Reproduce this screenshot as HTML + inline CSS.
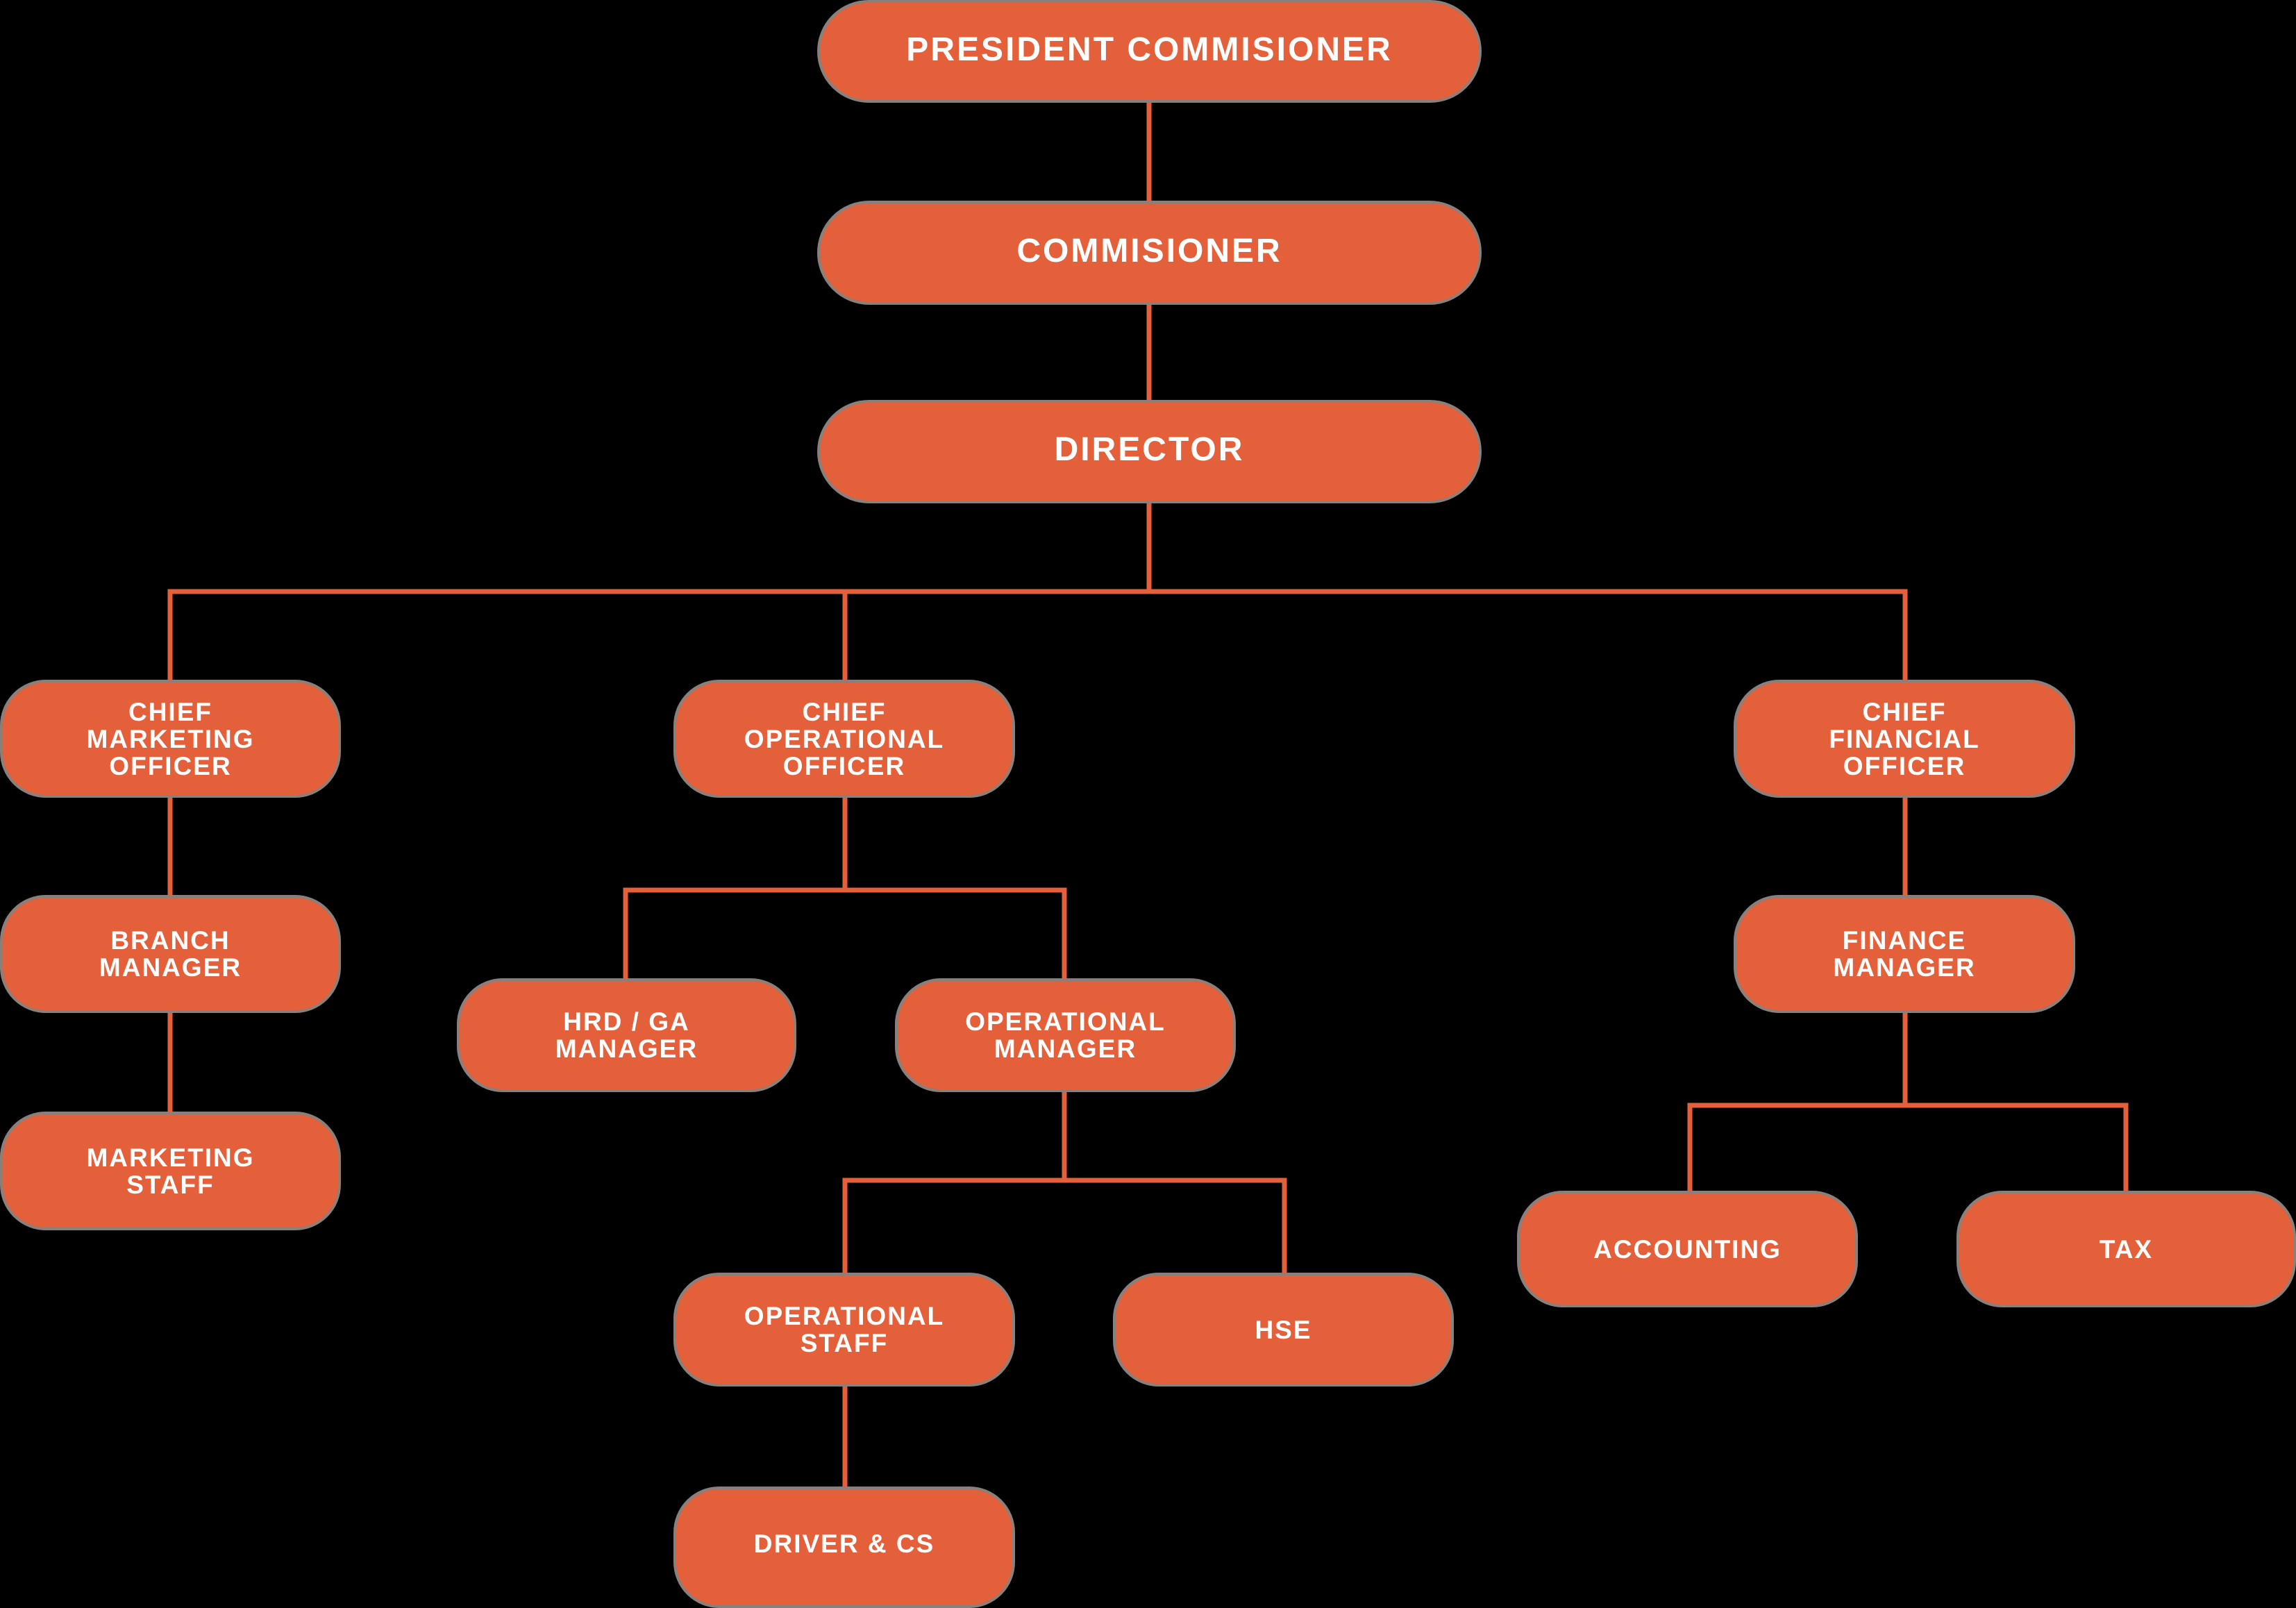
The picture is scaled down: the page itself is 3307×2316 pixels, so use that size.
<!DOCTYPE html>
<html><head><meta charset="utf-8"><style>
html,body{margin:0;padding:0;background:#000;}
body{width:3307px;height:2310px;position:relative;overflow:hidden;font-family:"Liberation Sans",sans-serif;}
.b{position:absolute;background:#E4603A;border:4px solid #8a7f7a;box-sizing:border-box;border-radius:66px;display:flex;align-items:center;justify-content:center;text-align:center;color:#fff;font-size:37px;line-height:39px;letter-spacing:2px;font-weight:bold;}
.t{font-size:48px;letter-spacing:3px;border-radius:78px;padding-bottom:6px;}
svg{position:absolute;left:0;top:0;}
</style></head><body>
<svg width="3307" height="2310">
<g stroke="#E4603A" stroke-width="7" fill="none">
<line x1="1655" y1="140" x2="1655" y2="295"/>
<line x1="1655" y1="430" x2="1655" y2="580"/>
<line x1="1655" y1="720" x2="1655" y2="852"/>
<polyline points="245,985 245,852 2744,852 2744,985"/>
<line x1="1217" y1="852" x2="1217" y2="985"/>
<line x1="245" y1="1145" x2="245" y2="1295"/>
<line x1="245" y1="1455" x2="245" y2="1605"/>
<line x1="1217" y1="1145" x2="1217" y2="1282"/>
<polyline points="901,1415 901,1282 1533,1282 1533,1415"/>
<line x1="1533" y1="1570" x2="1533" y2="1700"/>
<polyline points="1217,1838 1217,1700 1850,1700 1850,1838"/>
<line x1="1217" y1="1995" x2="1217" y2="2145"/>
<line x1="2744" y1="1145" x2="2744" y2="1295"/>
<line x1="2744" y1="1455" x2="2744" y2="1592"/>
<polyline points="2434,1720 2434,1592 3062,1592 3062,1720"/>
</g></svg>
<div class="b t" style="left:1177px;top:0;width:957px;height:148px;">PRESIDENT COMMISIONER</div>
<div class="b t" style="left:1177px;top:289px;width:957px;height:150px;">COMMISIONER</div>
<div class="b t" style="left:1177px;top:576px;width:957px;height:149px;">DIRECTOR</div>
<div class="b" style="left:0;top:979px;width:491px;height:170px;">CHIEF<br>MARKETING<br>OFFICER</div>
<div class="b" style="left:970px;top:979px;width:492px;height:170px;">CHIEF<br>OPERATIONAL<br>OFFICER</div>
<div class="b" style="left:2497px;top:979px;width:492px;height:170px;">CHIEF<br>FINANCIAL<br>OFFICER</div>
<div class="b" style="left:0;top:1289px;width:491px;height:170px;">BRANCH<br>MANAGER</div>
<div class="b" style="left:0;top:1601px;width:491px;height:171px;">MARKETING<br>STAFF</div>
<div class="b" style="left:658px;top:1409px;width:489px;height:164px;">HRD / GA<br>MANAGER</div>
<div class="b" style="left:1289px;top:1409px;width:491px;height:164px;">OPERATIONAL<br>MANAGER</div>
<div class="b" style="left:970px;top:1833px;width:492px;height:164px;">OPERATIONAL<br>STAFF</div>
<div class="b" style="left:1603px;top:1833px;width:491px;height:164px;">HSE</div>
<div class="b" style="left:970px;top:2141px;width:492px;height:175px;padding-bottom:10px;">DRIVER &amp; CS</div>
<div class="b" style="left:2497px;top:1289px;width:492px;height:170px;">FINANCE<br>MANAGER</div>
<div class="b" style="left:2185px;top:1715px;width:491px;height:168px;">ACCOUNTING</div>
<div class="b" style="left:2818px;top:1715px;width:489px;height:168px;">TAX</div>
</body></html>
